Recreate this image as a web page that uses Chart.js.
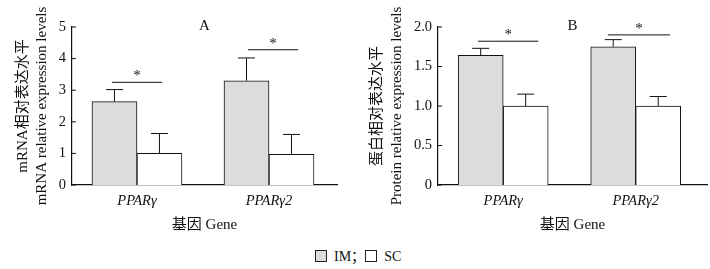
<!DOCTYPE html>
<html>
<head>
<meta charset="utf-8">
<script src="https://cdn.jsdelivr.net/npm/chart.js@4.4.1/dist/chart.umd.min.js"></script>
<style>
	body { margin: 0; background: #fff; }
	#wrap { position: relative; width: 710px; height: 269px; overflow: hidden; font-family: "Liberation Serif", "Noto Sans CJK SC", serif; }
	.box { position: absolute; top: 0; width: 355px; height: 240px; }
	#legend { position: absolute; top: 245px; left: 315px; font-size: 14px; color: #111; white-space: nowrap; }
	#legend span.sw { display: inline-block; width: 10px; height: 10px; border: 1px solid #222; vertical-align: -1px; margin-right: 7px; }
</style>
</head>
<body>
<div id="wrap">
	<div class="box" style="left:0"><canvas id="chartA"></canvas></div>
	<div class="box" style="left:355px"><canvas id="chartB"></canvas></div>
	<div id="legend"><span class="sw" style="background:#dcdcdc"></span>IM；<span class="sw" style="background:#fff"></span>SC</div>
</div>
<script>
// genes on the x axis
const genes = ['PPARγ', 'PPARγ2']

// A: mRNA relative expression
const mrnaIM = [2.64, 3.30]
const mrnaIMErr = [0.38, 0.72]
const mrnaSC = [1.00, 0.97]
const mrnaSCErr = [0.63, 0.63]
const mrnaSig = [3.25, 4.28]
const mrnaSigSpan = [[-0.19, 0.19], [-0.16, 0.22]]

// B: protein relative expression
const protIM = [1.64, 1.75]
const protIMErr = [0.09, 0.09]
const protSC = [1.00, 1.00]
const protSCErr = [0.15, 0.12]
const protSig = [1.82, 1.90]
const protSigSpan = [[-0.19, 0.265], [-0.21, 0.26]]

const serif = '"Liberation Serif", "Noto Sans CJK SC", serif'
Chart.defaults.font.family = serif
Chart.defaults.font.size = 14
Chart.defaults.color = '#111'

function points(vals) {
	return vals.map((v, i) => ({ x: i, y: v }))
}

// error bars, inward ticks, significance marks and panel letter
const extras = {
	id: 'extras',
	afterDatasetsDraw(chart, args, opts) {
		const { ctx, chartArea } = chart
		const xs = chart.scales.x, ys = chart.scales.y
		ctx.save()
		ctx.strokeStyle = '#111'
		ctx.lineWidth = 1
		// error bars
		chart.data.datasets.forEach((ds, di) => {
			const meta = chart.getDatasetMeta(di)
			meta.data.forEach((bar, i) => {
				const top = ys.getPixelForValue(ds.data[i].y + ds.err[i])
				const y0 = ys.getPixelForValue(ds.data[i].y)
				ctx.beginPath()
				ctx.moveTo(bar.x, y0)
				ctx.lineTo(bar.x, top)
				ctx.moveTo(bar.x - 8.5, top)
				ctx.lineTo(bar.x + 8.5, top)
				ctx.stroke()
			})
		})
		// inward ticks on y
		ys.ticks.forEach((t, i) => {
			const y = ys.getPixelForTick(i)
			ctx.beginPath()
			ctx.moveTo(chartArea.left, y)
			ctx.lineTo(chartArea.left + 4, y)
			ctx.stroke()
		})
		// significance
		ctx.fillStyle = '#111'
		ctx.textAlign = 'center'
		ctx.textBaseline = 'alphabetic'
		opts.sig.forEach((h, i) => {
			const y = ys.getPixelForValue(h)
			const x1 = xs.getPixelForValue(i + opts.span[i][0])
			const x2 = xs.getPixelForValue(i + opts.span[i][1])
			ctx.beginPath()
			ctx.moveTo(x1, y)
			ctx.lineTo(x2, y)
			ctx.stroke()
			ctx.font = '15px ' + serif
			ctx.fillText('*', (x1 + x2) / 2, y - 2)
		})
		ctx.font = '15px ' + serif
		ctx.textBaseline = 'middle'
		ctx.fillText(opts.letter, (chartArea.left + chartArea.right) / 2, chartArea.top - 1)
		ctx.restore()
	}
}

function makeChart(id, im, imErr, sc, scErr, sig, span, letter, yMax, yStep, yTitle, yWidth, titlePad, padRight, xMax) {
	return new Chart(document.getElementById(id), {
		type: 'bar',
		data: {
			datasets: [
				{ label: 'IM', data: points(im), err: imErr, backgroundColor: '#dcdcdc', borderColor: '#111', borderWidth: 1, barThickness: 45 },
				{ label: 'SC', data: points(sc), err: scErr, backgroundColor: '#fff', borderColor: '#111', borderWidth: 1, barThickness: 45 },
			],
		},
		options: {
			responsive: true,
			maintainAspectRatio: false,
			animation: false,
			layout: { padding: { top: 27, right: padRight, left: 0, bottom: 0 } },
			plugins: {
				legend: { display: false },
				tooltip: { enabled: false },
				extras: { sig: sig, span: span, letter: letter },
			},
			scales: {
				x: {
					type: 'linear',
					offset: false,
					bounds: 'data',
					min: -0.492,
					max: xMax,
					grid: { display: false, drawTicks: false, offset: false },
					border: { display: true, color: '#111', width: 1.2 },
					afterBuildTicks: (s) => { s.ticks = genes.map((g, i) => ({ value: i })) },
					afterFit: (s) => { s.height = 55 },
					ticks: {
						padding: 7,
						font: { style: 'italic', size: 14.5 },
						callback: (v, i) => genes[i],
					},
					title: {
						display: true,
						text: '基因 Gene',
						font: { size: 15 },
						padding: { top: 0, bottom: 6 },
					},
				},
				y: {
					min: 0,
					max: yMax,
					grid: { display: false, drawTicks: false },
					border: { display: true, color: '#111', width: 1.2 },
					afterFit: (s) => { s.width = yWidth },
					ticks: {
						stepSize: yStep,
						padding: 6,
						font: { size: 14.5 },
						callback: (v) => (yStep < 1 && v !== 0 ? v.toFixed(1) : String(v)),
					},
					title: {
						display: true,
						text: yTitle,
						font: { size: 15, lineHeight: 1.3 },
						padding: { top: titlePad, bottom: 0 },
					},
				},
			},
		},
		plugins: [extras],
	})
}

makeChart('chartA', mrnaIM, mrnaIMErr, mrnaSC, mrnaSCErr, mrnaSig, mrnaSigSpan, 'A', 5, 1,
	['mRNA相对表达水平', 'mRNA relative expression levels'], 72, 13, 18, 1.515)
makeChart('chartB', protIM, protIMErr, protSC, protSCErr, protSig, protSigSpan, 'B', 2, 0.5,
	['蛋白相对表达水平', 'Protein relative expression levels'], 83, 12.5, 3, 1.538)
</script>
</body>
</html>
